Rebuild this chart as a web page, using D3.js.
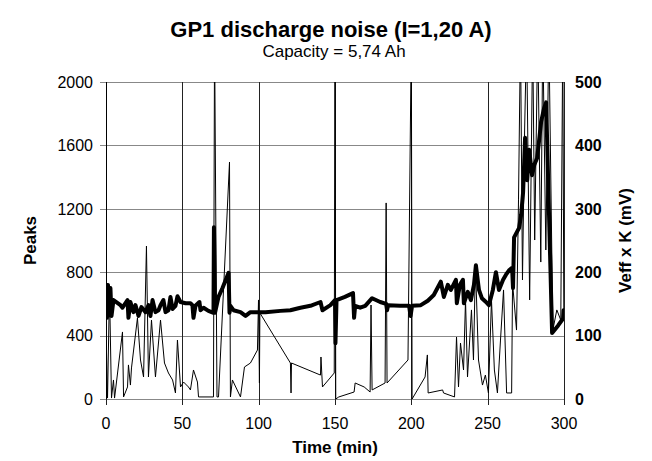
<!DOCTYPE html>
<html lang="en">
  <head>
    <meta charset="UTF-8" />
    <title>GP1 discharge noise</title>
    <script src="https://d3js.org/d3.v7.min.js"></script>
    <style>
      body { margin: 0; background: #fff; }
      text { font-family: "Liberation Sans", Arial, sans-serif; fill: #000; }
    </style>
  </head>
  <body>
    <svg id="chart" width="652" height="461"></svg>
    <script>
      // time (min) / peaks count, thin line (left axis)
      const peaksTime = [
        0.3, 1.0, 2.3, 3.6, 4.9, 5.6, 10.8, 11.5, 14.1, 14.7, 16.0, 16.7, 20.6, 22.6,
        24.6, 26.5, 27.8, 29.8, 32.4, 35.7, 38.3, 40.9, 43.6, 45.5, 46.8, 48.8, 50.8,
        54.0, 55.3, 57.3, 59.9, 60.6, 70.4, 71.1, 72.7, 73.7, 80.9, 81.5, 82.8, 88.1,
        90.7, 94.6, 99.2, 99.9, 100.5, 100.8, 120.8, 121.2, 121.5, 140.5, 140.8, 141.8,
        149.5, 150.0, 150.5, 152.5, 162.5, 163.2, 169.1, 173.0, 173.6, 174.3, 182.8,
        183.5, 184.1, 197.8, 200.0, 200.5, 209.0, 210.5, 211.0, 220.5, 221.1, 228.3,
        229.6, 230.9, 232.2, 234.2, 235.5, 236.8, 239.4, 240.7, 242.0, 244.0, 246.6,
        248.5, 250.5, 252.5, 254.4, 256.4, 258.4, 260.4, 262.4, 265.7, 266.3, 268.9,
        270.2, 271.5, 272.8, 274.2, 275.5, 277.5, 279.5, 280.8, 282.8, 284.8, 286.1,
        288.1, 290.1, 292.7, 295.3, 297.9, 299.2, 299.9
      ];
      const peaksValues = [
        309, 6, 688, 6, 120, 6, 423, 13, 76, 215, 88, 196, 511, 246,
        139, 965, 139, 498, 139, 498, 227, 164, 120, 38, 372, 76, 107,
        76, 57, 183, 107, 13, 13, 2300, 13, 13, 1495, 13, 120, 13,
        202, 227, 309, 625, 101, 543, 227, 38, 227, 151, 265, 76,
        164, 2300, 0, 13, 44, 101, 76, 44, 593, 57, 101,
        1237, 101, 246, 2300, 0, 139, 278, 38, 57, 38, 13,
        391, 76, 353, 183, 625, 139, 562, 246, 845, 246, 88,
        151, 38, 625, 183, 38, 372, 688, 38, 38, 732, 435,
        1256, 2300, 751, 1697, 2300, 625, 2300, 1003, 2300, 864, 2300,
        940, 2300, 435, 562, 498, 2300, 498
      ];

      // time (min) / Veff x K (mV), thick line (right axis)
      const veffTime = [
        0.3, 0.6, 1.3, 2.3, 2.9, 3.6, 4.9, 9.5, 10.8, 14.1, 14.7, 16.0, 18.0, 19.3,
        21.3, 23.2, 25.9, 27.8, 29.1, 30.5, 32.4, 34.4, 35.7, 37.6, 39.0, 40.9, 42.2,
        43.6, 45.5, 46.8, 48.8, 52.1, 55.3, 56.6, 57.3, 58.6, 61.2, 61.9, 63.9, 67.1,
        70.4, 70.7, 71.4, 73.7, 76.3, 80.3, 80.9, 81.5, 83.5, 88.1, 91.4, 94.6, 99.9,
        104.5, 114.3, 120.8, 127.4, 133.9, 140.5, 141.8, 147.0, 150.0, 150.3, 151.0,
        156.5, 161.8, 162.5, 163.2, 166.5, 169.8, 174.3, 179.6, 183.5, 184.1, 184.8,
        192.6, 198.5, 199.5, 200.5, 206.2, 210.8, 214.7, 219.3, 221.3, 223.9, 225.9,
        229.2, 229.8, 231.8, 233.8, 234.4, 237.0, 239.0, 241.0, 242.3, 244.3, 246.2,
        248.9, 250.8, 253.4, 255.4, 257.4, 260.1, 262.0, 264.0, 266.0, 266.6, 267.3,
        270.6, 271.9, 273.2, 274.5, 275.9, 277.2, 279.1, 280.5, 282.4, 283.7, 285.0,
        287.0, 288.3, 292.2, 296.2, 299.4, 299.7, 300.0
      ];
      const veffValues = [
        183, 128, 180, 132, 175, 131, 156, 148, 144, 156, 128, 153, 137, 148,
        131, 145, 137, 148, 131, 156, 137, 140, 148, 156, 137, 140, 161,
        142, 147, 162, 153, 151, 151, 148, 128, 147, 153, 140, 144, 139,
        136, 271, 136, 161, 175, 199, 136, 147, 140, 137, 131, 137, 137,
        137, 139, 140, 144, 147, 153, 140, 148, 156, 88, 156,
        161, 167, 128, 147, 144, 147, 159, 153, 150, 140, 148,
        147, 147, 131, 147, 148, 155, 164, 185, 161, 180, 172,
        188, 151, 180, 188, 151, 169, 156, 180, 211, 172, 159,
        153, 148, 172, 200, 172, 188, 196, 203, 207, 175, 255,
        270, 290, 326, 412, 345, 393, 353, 369, 380, 408, 437,
        459, 468, 104, 116, 127, 140, 124
      ];

      const xTicks = [0, 50, 100, 150, 200, 250, 300];
      const leftTicks = [0, 400, 800, 1200, 1600, 2000];
      const rightTicks = [0, 100, 200, 300, 400, 500];

      const svg = d3.select("#chart");
      const margin = { top: 82, right: 88, bottom: 62, left: 106 };
      const width = 652 - margin.left - margin.right;
      const height = 461 - margin.top - margin.bottom;

      const x = d3.scaleLinear().domain([0, 300]).range([0, width]);
      const yLeft = d3.scaleLinear().domain([0, 2000]).range([height, 0]);
      const yRight = d3.scaleLinear().domain([0, 500]).range([height, 0]);

      const g = svg
        .append("g")
        .attr("transform", `translate(${margin.left},${margin.top})`);

      svg
        .append("defs")
        .append("clipPath")
        .attr("id", "plotClip")
        .append("rect")
        .attr("x", 0)
        .attr("y", 0)
        .attr("width", width)
        .attr("height", height);

      // gridlines
      g.selectAll(".hgrid")
        .data(leftTicks)
        .enter()
        .append("line")
        .attr("x1", -6)
        .attr("x2", width)
        .attr("y1", (d) => Math.round(yLeft(d)) + 0.5)
        .attr("y2", (d) => Math.round(yLeft(d)) + 0.5)
        .attr("stroke", "#888")
        .attr("stroke-width", 1.2);

      g.selectAll(".vgrid")
        .data(xTicks)
        .enter()
        .append("line")
        .attr("x1", (d) => Math.round(x(d)) + 0.5)
        .attr("x2", (d) => Math.round(x(d)) + 0.5)
        .attr("y1", 0)
        .attr("y2", height + 6)
        .attr("stroke", "#222")
        .attr("stroke-width", 1);

      // left axis line
      g.append("line")
        .attr("x1", 0.5)
        .attr("x2", 0.5)
        .attr("y1", 0)
        .attr("y2", height)
        .attr("stroke", "#000");

      const plot = g.append("g").attr("clip-path", "url(#plotClip)");

      const peaksData = peaksTime.map((t, i) => [t, peaksValues[i]]);
      const veffData = veffTime.map((t, i) => [t, veffValues[i]]);

      plot
        .append("path")
        .datum(peaksData)
        .attr("fill", "none")
        .attr("stroke", "#000")
        .attr("stroke-width", 1)
        .attr(
          "d",
          d3
            .line()
            .x((d) => x(d[0]))
            .y((d) => yLeft(d[1]))
        );

      plot
        .append("path")
        .datum(veffData)
        .attr("fill", "none")
        .attr("stroke", "#000")
        .attr("stroke-width", 4)
        .attr("stroke-linejoin", "round")
        .attr(
          "d",
          d3
            .line()
            .x((d) => x(d[0]))
            .y((d) => yRight(d[1]))
        );

      // tick labels
      g.selectAll(".lt")
        .data(leftTicks)
        .enter()
        .append("text")
        .attr("x", -13)
        .attr("y", (d) => yLeft(d))
        .attr("dy", "0.36em")
        .attr("text-anchor", "end")
        .style("font-size", "16px")
        .text((d) => d);

      g.selectAll(".rt")
        .data(rightTicks)
        .enter()
        .append("text")
        .attr("x", width + 11)
        .attr("y", (d) => yRight(d))
        .attr("dy", "0.36em")
        .attr("text-anchor", "start")
        .style("font-size", "16px")
        .style("font-weight", "bold")
        .text((d) => d);

      g.selectAll(".xt")
        .data(xTicks)
        .enter()
        .append("text")
        .attr("x", (d) => x(d))
        .attr("y", height + 30)
        .attr("text-anchor", "middle")
        .style("font-size", "16px")
        .text((d) => d);

      // titles
      svg
        .append("text")
        .attr("x", 331)
        .attr("y", 37)
        .attr("text-anchor", "middle")
        .style("font-size", "22px")
        .style("font-weight", "bold")
        .text("GP1 discharge noise (I=1,20 A)");

      svg
        .append("text")
        .attr("x", 334)
        .attr("y", 57)
        .attr("text-anchor", "middle")
        .style("font-size", "17px")
        .text("Capacity = 5,74 Ah");

      svg
        .append("text")
        .attr("x", margin.left + width / 2)
        .attr("y", 453)
        .attr("text-anchor", "middle")
        .style("font-size", "17px")
        .style("font-weight", "bold")
        .text("Time (min)");

      svg
        .append("text")
        .attr("transform", `translate(36,${margin.top + height / 2}) rotate(-90)`)
        .attr("text-anchor", "middle")
        .style("font-size", "17px")
        .style("font-weight", "bold")
        .text("Peaks");

      svg
        .append("text")
        .attr("transform", `translate(631,${margin.top + height / 2}) rotate(-90)`)
        .attr("text-anchor", "middle")
        .style("font-size", "17px")
        .style("font-weight", "bold")
        .text("Veff x K (mV)");
    </script>
  </body>
</html>
